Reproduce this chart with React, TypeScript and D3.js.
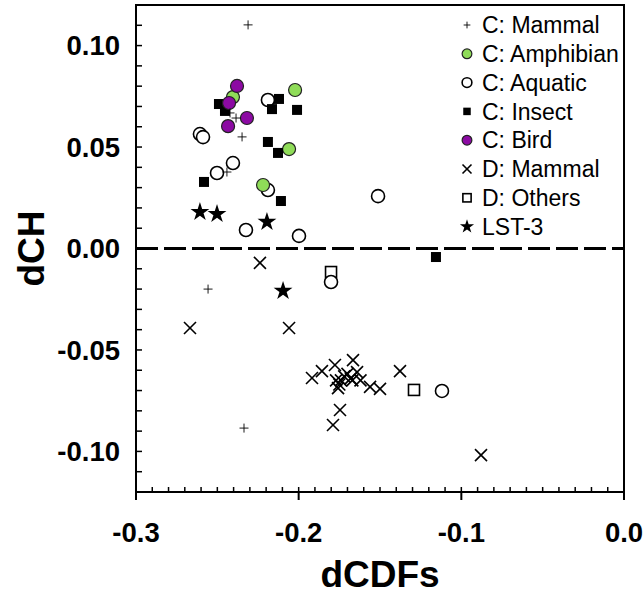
import React from "react";
import * as d3 from "d3";

const W = 643, H = 596;
const M = { left: 136, right: 624, top: 5, bottom: 492 };

const xTicks = [-0.3, -0.2, -0.1, 0.0];
const yTicks = [0.10, 0.05, 0.0, -0.05, -0.10];

const cMammal: [number, number][] = [
  [-0.2311, 0.1102], [-0.2422, 0.0668], [-0.2385, 0.0643], [-0.2348, 0.0550],
  [-0.2441, 0.0377], [-0.2557, -0.0200], [-0.2336, -0.0885],
];
const cAmphibian: [number, number][] = [
  [-0.2022, 0.0781], [-0.2404, 0.0746], [-0.2059, 0.0490], [-0.2219, 0.0313],
];
const cAquatic: [number, number][] = [
  [-0.2607, 0.0564], [-0.2588, 0.0549], [-0.2404, 0.0421], [-0.2502, 0.0372],
  [-0.2189, 0.0288], [-0.2324, 0.0091], [-0.1998, 0.0062], [-0.1512, 0.0258],
  [-0.2189, 0.0732], [-0.1801, -0.0165], [-0.1119, -0.0702],
];
const cInsect: [number, number][] = [
  [-0.2490, 0.0712], [-0.2453, 0.0678], [-0.2121, 0.0737], [-0.2164, 0.0687],
  [-0.2010, 0.0683], [-0.2189, 0.0525], [-0.2127, 0.0471], [-0.2582, 0.0328],
  [-0.2109, 0.0234], [-0.1156, -0.0042],
];
const cBird: [number, number][] = [
  [-0.2379, 0.0801], [-0.2428, 0.0717], [-0.2318, 0.0643], [-0.2434, 0.0603],
];
const dMammal: [number, number][] = [
  [-0.2238, -0.0071], [-0.2668, -0.0392], [-0.2059, -0.0392], [-0.0879, -0.1018],
  [-0.1918, -0.0638], [-0.1857, -0.0604], [-0.1777, -0.0574], [-0.1666, -0.0550],
  [-0.1641, -0.0609], [-0.1700, -0.0618], [-0.1740, -0.0650], [-0.1758, -0.0688],
  [-0.1770, -0.0650], [-0.1670, -0.0650], [-0.1620, -0.0650], [-0.1561, -0.0682],
  [-0.1500, -0.0692], [-0.1377, -0.0604], [-0.1746, -0.0796], [-0.1789, -0.0870],
  [-0.1720, -0.0630], [-0.1750, -0.0670], [-0.1680, -0.0640],
];
const dOthers: [number, number][] = [[-0.1801, -0.0116], [-0.1291, -0.0697]];
const lst3: [number, number][] = [
  [-0.2607, 0.0180], [-0.2502, 0.0170], [-0.2195, 0.0131], [-0.2096, -0.0209],
];

const legendLabels = [
  "C: Mammal", "C: Amphibian", "C: Aquatic", "C: Insect",
  "C: Bird", "D: Mammal", "D: Others", "LST-3",
];

const GREEN = "#8fdc58";
const PURPLE = "#8c0aa3";
const FONT = "'Liberation Sans', Arial, Helvetica, sans-serif";

type Kind = "plus" | "green" | "open" | "square" | "purple" | "x" | "osquare" | "star";

function Marker({ kind, x, y, s = 1 }: { kind: Kind; x: number; y: number; s?: number }) {
  switch (kind) {
    case "plus": {
      const r = 4.5 * s;
      return (
        <g stroke="#000" strokeWidth={0.9}>
          <line x1={x - r} x2={x + r} y1={y} y2={y} />
          <line x1={x} x2={x} y1={y - r} y2={y + r} />
        </g>
      );
    }
    case "green":
      return <circle cx={x} cy={y} r={6.5 * s} fill={GREEN} stroke="#222" strokeWidth={1.2} />;
    case "purple":
      return <circle cx={x} cy={y} r={6.5 * s} fill={PURPLE} stroke="#222" strokeWidth={1.2} />;
    case "open":
      return <circle cx={x} cy={y} r={6.5 * s} fill="#fff" stroke="#000" strokeWidth={1.6} />;
    case "square": {
      const h = 5 * s;
      return <rect x={x - h} y={y - h} width={2 * h} height={2 * h} fill="#000" />;
    }
    case "osquare": {
      const h = 5.5 * s;
      return <rect x={x - h} y={y - h} width={2 * h} height={2 * h} fill="#fff" stroke="#000" strokeWidth={1.6} />;
    }
    case "x": {
      const r = 6 * s;
      return (
        <g stroke="#000" strokeWidth={1.6}>
          <line x1={x - r} x2={x + r} y1={y - r} y2={y + r} />
          <line x1={x - r} x2={x + r} y1={y + r} y2={y - r} />
        </g>
      );
    }
    case "star": {
      const p = d3.symbol(d3.symbolStar, 110 * s * s)()!;
      return <path d={p} transform={`translate(${x},${y})`} fill="#000" />;
    }
  }
  return null;
}

export default function App() {
  const x = d3.scaleLinear().domain([-0.3, 0.0]).range([M.left, M.right]);
  const y = d3.scaleLinear().domain([-0.12, 0.12]).range([M.bottom, M.top]);

  const minorX = d3.range(-29, 0).map((i) => i / 100);
  const minorY = d3.range(-11, 12).map((i) => i / 100);

  const series: { kind: Kind; data: [number, number][] }[] = [
    { kind: "x", data: dMammal },
    { kind: "osquare", data: dOthers },
    { kind: "open", data: cAquatic },
    { kind: "green", data: cAmphibian },
    { kind: "square", data: cInsect },
    { kind: "purple", data: cBird },
    { kind: "plus", data: cMammal },
    { kind: "star", data: lst3 },
  ];
  const legendKinds: Kind[] = ["plus", "green", "open", "square", "purple", "x", "osquare", "star"];

  return (
    <svg width={W} height={H} style={{ position: "absolute", left: 0, top: 0, background: "#fff" }}>
      <rect x={0} y={0} width={W} height={H} fill="#fff" />
      {/* zero dashed line */}
      <line x1={M.left} x2={M.right} y1={y(0)} y2={y(0)} stroke="#000" strokeWidth={3} strokeDasharray="22 6" />

      {/* points */}
      {series.map((s, i) => (
        <g key={i}>
          {s.data.map((d, j) => (
            <Marker key={j} kind={s.kind} x={x(d[0])} y={y(d[1])} />
          ))}
        </g>
      ))}

      {/* frame */}
      <rect x={M.left} y={M.top} width={M.right - M.left} height={M.bottom - M.top} fill="none" stroke="#000" strokeWidth={2} />

      {/* x ticks */}
      {minorX.map((v, i) => (
        <line key={"mx" + i} x1={x(v)} x2={x(v)} y1={M.bottom} y2={M.bottom - 5} stroke="#000" strokeWidth={1.5} />
      ))}
      {xTicks.map((v, i) => (
        <g key={"xt" + i}>
          <line x1={x(v)} x2={x(v)} y1={M.bottom} y2={M.bottom + 8} stroke="#000" strokeWidth={2} />
          <text x={x(v)} y={542} textAnchor="middle" fontFamily={FONT} fontWeight="bold" fontSize={27.5}>
            {v.toFixed(1)}
          </text>
        </g>
      ))}

      {/* y ticks */}
      {minorY.map((v, i) => (
        <line key={"my" + i} x1={M.left} x2={M.left + 6} y1={y(v)} y2={y(v)} stroke="#000" strokeWidth={1.5} />
      ))}
      {yTicks.map((v, i) => (
        <text key={"yt" + i} x={120} y={y(v)} dy="0.36em" textAnchor="end" fontFamily={FONT} fontWeight="bold" fontSize={27.5}>
          {v.toFixed(2)}
        </text>
      ))}

      {/* axis titles */}
      <text x={(M.left + M.right) / 2} y={587} textAnchor="middle" fontFamily={FONT} fontWeight="bold" fontSize={37}>
        dCDFs
      </text>
      <text transform={`translate(44,${y(0)}) rotate(-90)`} textAnchor="middle" fontFamily={FONT} fontWeight="bold" fontSize={37}>
        dCH
      </text>

      {/* legend */}
      {legendLabels.map((lab, i) => {
        const ly = 25 + i * 28.8;
        return (
          <g key={"lg" + i}>
            <Marker kind={legendKinds[i]} x={467} y={ly} s={0.75} />
            <text x={482} y={ly} dy="0.36em" fontFamily={FONT} fontSize={23}>
              {lab}
            </text>
          </g>
        );
      })}
    </svg>
  );
}
